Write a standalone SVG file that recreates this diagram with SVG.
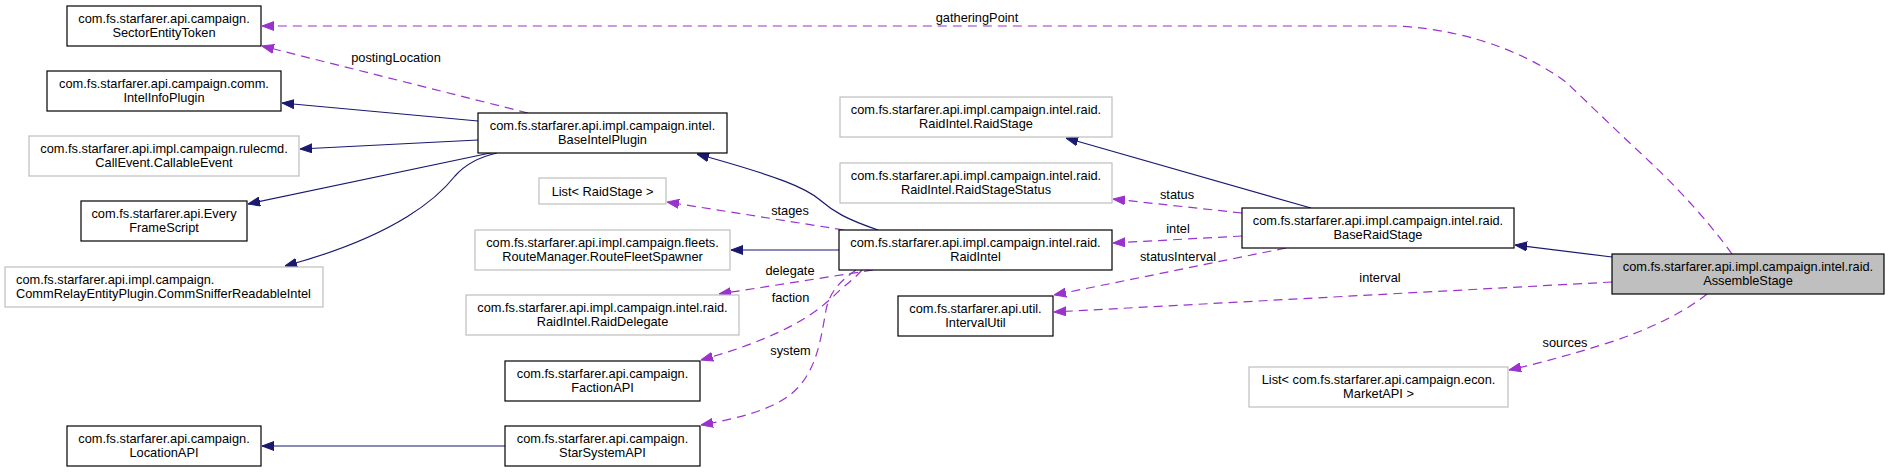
<svg xmlns="http://www.w3.org/2000/svg" width="1889" height="472" viewBox="0 0 1889 472">
<style>
text{font-family:"Liberation Sans",Arial,Helvetica,sans-serif;font-size:12.8px;fill:#000}
.c{text-anchor:middle}
.l{text-anchor:start}
.doc{fill:#fff;stroke:#000;stroke-width:1.2}
.und{fill:#fff;stroke:#bfbfbf;stroke-width:1.2}
.cur{fill:#bfbfbf;stroke:#000;stroke-width:1.2}
.inh{fill:none;stroke:#191970;stroke-width:1.2;marker-end:url(#ah)}
.use{fill:none;stroke:#9a32cd;stroke-width:1.2;stroke-dasharray:9,6;marker-end:url(#au)}
</style>
<defs>
<marker id="ah" markerUnits="userSpaceOnUse" markerWidth="12" markerHeight="10" viewBox="0 0 12 9" refX="12" refY="4.5" orient="auto"><path d="M0,0 L12,4.5 L0,9 z" fill="#191970" stroke="#191970" stroke-width="1"/></marker>
<marker id="au" markerUnits="userSpaceOnUse" markerWidth="12" markerHeight="10" viewBox="0 0 12 9" refX="12" refY="4.5" orient="auto"><path d="M0,0 L12,4.5 L0,9 z" fill="#9a32cd" stroke="#9a32cd" stroke-width="1"/></marker>
</defs>
<rect width="1889" height="472" fill="#fff"/>
<g id="connectors">
<path class="use" d="M528,113 L262,46"/>
<text class="c" x="396" y="62">postingLocation</text>
<path class="use" d="M1732,254 C1712,226 1680,190 1650,162 C1620,134 1590,105 1567,83 C1540,62 1480,30 1397,26 L262,26"/>
<text class="c" x="977" y="21.5">gatheringPoint</text>
<path class="inh" d="M478,121 L282,103"/>
<path class="inh" d="M478,140 L300,149"/>
<path class="inh" d="M495,152 L248,204"/>
<path class="inh" d="M497,153 C475,158 462,168 455,176 C440,195 400,235 285,266"/>
<path class="inh" d="M878,230 C846,219 834,212 820,200 C806,188 780,177 697,154"/>
<path class="use" d="M844,230 L667,202"/>
<text class="c" x="790" y="214.5">stages</text>
<path class="inh" d="M839,250 L731,250"/>
<path class="use" d="M873,270 L719,294"/>
<text class="c" x="790" y="274.5">delegate</text>
<path class="use" d="M862,270 C855,278 848,283 840,290 C820,310 790,335 701,360"/>
<text class="c" x="790.5" y="302">faction</text>
<path class="use" d="M856,270 C842,280 830,290 826,310 C820,345 815,375 790,395 C770,410 740,418 701,425"/>
<text class="c" x="790.5" y="354.5">system</text>
<path class="inh" d="M1311,208 L1066,138"/>
<path class="use" d="M1242,213 L1113,199"/>
<text class="c" x="1177" y="198.5">status</text>
<path class="use" d="M1242,236 L1113,243"/>
<text class="c" x="1178" y="232.5">intel</text>
<path class="use" d="M1286,248 L1054,295"/>
<text class="c" x="1178" y="261">statusInterval</text>
<path class="inh" d="M1612,257 L1515,245"/>
<path class="use" d="M1612,282 L1054,312"/>
<text class="c" x="1380" y="282">interval</text>
<path class="use" d="M1707,294 C1690,308 1660,325 1617,340 C1580,352 1545,362 1509,370"/>
<text class="c" x="1565" y="347">sources</text>
<path class="inh" d="M505,446 L262,446"/>
</g>
<g id="node-SectorEntityToken"><rect class="doc" x="67" y="6" width="194" height="40"/><text class="c" x="164" y="23">com.fs.starfarer.api.campaign.</text><text class="c" x="164" y="37">SectorEntityToken</text></g>
<g id="node-IntelInfoPlugin"><rect class="doc" x="47" y="71" width="234" height="40"/><text class="c" x="164" y="88">com.fs.starfarer.api.campaign.comm.</text><text class="c" x="164" y="102">IntelInfoPlugin</text></g>
<g id="node-CallableEvent"><rect class="und" x="29" y="136" width="270" height="40"/><text class="c" x="164" y="153">com.fs.starfarer.api.impl.campaign.rulecmd.</text><text class="c" x="164" y="167">CallEvent.CallableEvent</text></g>
<g id="node-EveryFrameScript"><rect class="doc" x="81" y="201" width="166" height="40"/><text class="c" x="164" y="218">com.fs.starfarer.api.Every</text><text class="c" x="164" y="232">FrameScript</text></g>
<g id="node-CommSniffer"><rect class="und" x="5" y="267" width="318" height="40"/><text class="l" x="16" y="284">com.fs.starfarer.api.impl.campaign.</text><text class="l" x="16" y="298">CommRelayEntityPlugin.CommSnifferReadableIntel</text></g>
<g id="node-LocationAPI"><rect class="doc" x="67" y="426" width="194" height="40"/><text class="c" x="164" y="443">com.fs.starfarer.api.campaign.</text><text class="c" x="164" y="457">LocationAPI</text></g>
<g id="node-BaseIntelPlugin"><rect class="doc" x="478" y="113" width="249" height="40"/><text class="c" x="602.5" y="130">com.fs.starfarer.api.impl.campaign.intel.</text><text class="c" x="602.5" y="144">BaseIntelPlugin</text></g>
<g id="node-ListRaidStage"><rect class="und" x="539" y="178" width="127" height="26"/><text class="c" x="602.5" y="195.5">List&lt; RaidStage &gt;</text></g>
<g id="node-RouteFleetSpawner"><rect class="und" x="475" y="230" width="255" height="40"/><text class="c" x="602.5" y="247">com.fs.starfarer.api.impl.campaign.fleets.</text><text class="c" x="602.5" y="261">RouteManager.RouteFleetSpawner</text></g>
<g id="node-RaidDelegate"><rect class="und" x="466" y="295" width="273" height="40"/><text class="c" x="602.5" y="312">com.fs.starfarer.api.impl.campaign.intel.raid.</text><text class="c" x="602.5" y="326">RaidIntel.RaidDelegate</text></g>
<g id="node-FactionAPI"><rect class="doc" x="505" y="361" width="195" height="40"/><text class="c" x="602.5" y="378">com.fs.starfarer.api.campaign.</text><text class="c" x="602.5" y="392">FactionAPI</text></g>
<g id="node-StarSystemAPI"><rect class="doc" x="505" y="426" width="195" height="40"/><text class="c" x="602.5" y="443">com.fs.starfarer.api.campaign.</text><text class="c" x="602.5" y="457">StarSystemAPI</text></g>
<g id="node-RaidStage"><rect class="und" x="840" y="97" width="272" height="40"/><text class="c" x="976" y="114">com.fs.starfarer.api.impl.campaign.intel.raid.</text><text class="c" x="976" y="128">RaidIntel.RaidStage</text></g>
<g id="node-RaidStageStatus"><rect class="und" x="840" y="163" width="272" height="40"/><text class="c" x="976" y="180">com.fs.starfarer.api.impl.campaign.intel.raid.</text><text class="c" x="976" y="194">RaidIntel.RaidStageStatus</text></g>
<g id="node-RaidIntel"><rect class="doc" x="839" y="230" width="273" height="40"/><text class="c" x="975.5" y="247">com.fs.starfarer.api.impl.campaign.intel.raid.</text><text class="c" x="975.5" y="261">RaidIntel</text></g>
<g id="node-IntervalUtil"><rect class="doc" x="898" y="296" width="155" height="40"/><text class="c" x="975.5" y="313">com.fs.starfarer.api.util.</text><text class="c" x="975.5" y="327">IntervalUtil</text></g>
<g id="node-BaseRaidStage"><rect class="doc" x="1242" y="208" width="272" height="40"/><text class="c" x="1378" y="225">com.fs.starfarer.api.impl.campaign.intel.raid.</text><text class="c" x="1378" y="239">BaseRaidStage</text></g>
<g id="node-MarketAPIList"><rect class="und" x="1249" y="367" width="259" height="40"/><text class="c" x="1378.5" y="384">List&lt; com.fs.starfarer.api.campaign.econ.</text><text class="c" x="1378.5" y="398">MarketAPI &gt;</text></g>
<g id="node-AssembleStage"><rect class="cur" x="1612" y="254" width="272" height="40"/><text class="c" x="1748" y="271">com.fs.starfarer.api.impl.campaign.intel.raid.</text><text class="c" x="1748" y="285">AssembleStage</text></g>
</svg>
